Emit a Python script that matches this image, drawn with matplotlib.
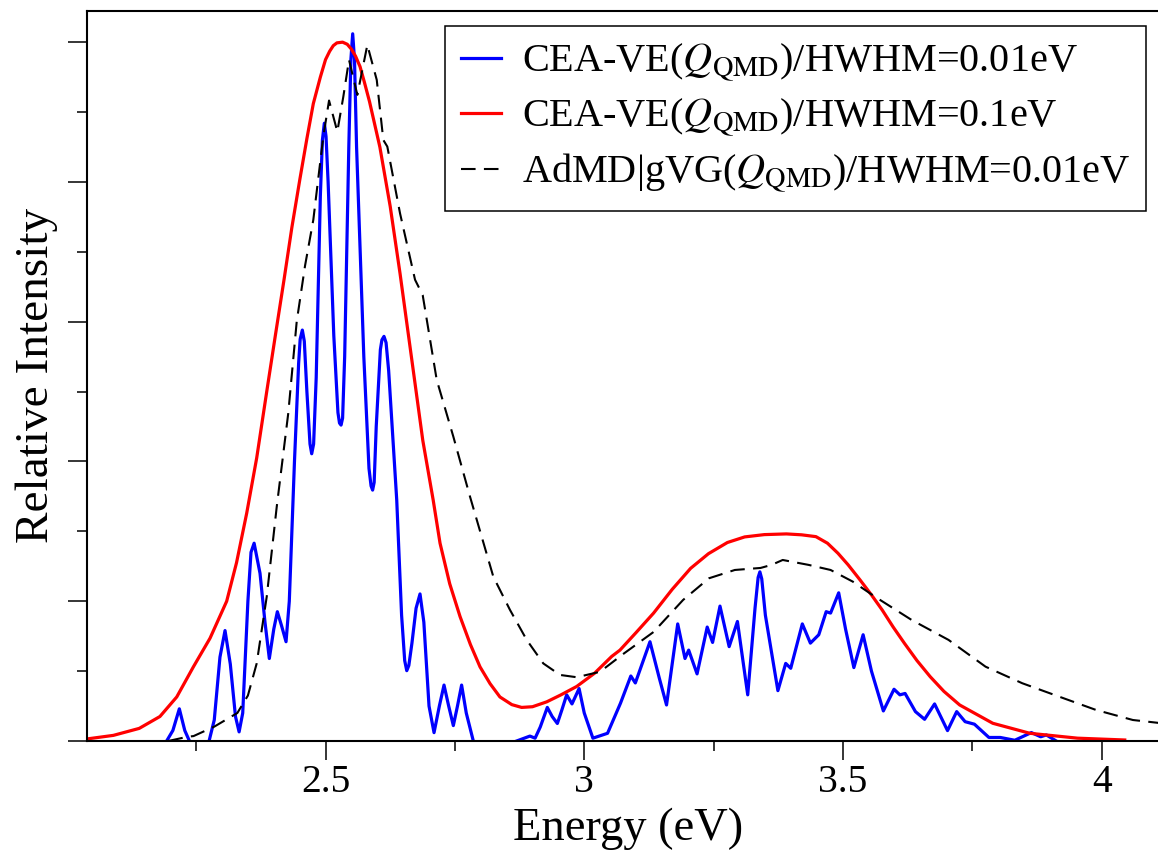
## import libraries
import numpy as np
import matplotlib
matplotlib.use("Agg")
import matplotlib.pyplot as plt
from matplotlib.ticker import MultipleLocator, NullFormatter

## spectrum values (energy in eV, relative intensity)
nan = np.nan
blue_x = [2.193, 2.205, 2.2175, 2.228, 2.237, nan,
          2.275, 2.285, 2.296, 2.3058, 2.316, 2.326, 2.333, 2.340, 2.350, 2.356, 2.362,
          2.3734, 2.383, 2.3914, 2.400, 2.4069, 2.415, 2.4237, 2.430, 2.440, 2.448, 2.451,
          2.4552, 2.459, 2.464, 2.470, 2.4733, 2.477, 2.482, 2.490, 2.494, 2.4977, 2.501,
          2.505, 2.516, 2.524, 2.527, 2.530, 2.533, 2.537, 2.545, 2.549, 2.5525, 2.556,
          2.560, 2.574, 2.584, 2.588, 2.591, 2.594, 2.598, 2.606, 2.609, 2.613, 2.617,
          2.622, 2.6376, 2.647, 2.653, 2.657, 2.661, 2.667, 2.675, 2.6826, 2.690, 2.700,
          2.7097, 2.720, 2.729, 2.738, 2.747, 2.755, 2.763, 2.772, 2.7856, nan,
          2.8695, 2.895, 2.905, 2.915, 2.9286, 2.938, 2.948, 2.957, 2.966, 2.9763, 2.990,
          3.000, 3.0167, 3.045, 3.070, 3.090, 3.0987, 3.127, 3.145, 3.159, 3.1806, 3.1947,
          3.2018, 3.218, 3.2376, 3.248, 3.2623, 3.280, 3.296, 3.3159, 3.330, 3.336, 3.3394,
          3.343, 3.350, 3.3742, 3.3893, 3.399, 3.4214, 3.437, 3.4532, 3.4675, 3.476, 3.4917,
          3.505, 3.521, 3.5389, 3.555, 3.578, 3.5986, 3.610, 3.620, 3.640, 3.6577, 3.677,
          3.702, 3.7197, 3.736, 3.754, 3.782, 3.804, 3.832, 3.864, 3.882, 3.893, 3.912]
blue_y = [0.0, 0.015, 0.046, 0.015, 0.0, nan,
          0.0, 0.03, 0.12, 0.158, 0.11, 0.035, 0.013, 0.04, 0.20, 0.27, 0.283,
          0.240, 0.17, 0.118, 0.16, 0.185, 0.165, 0.142, 0.20, 0.40, 0.54, 0.575,
          0.588, 0.572, 0.50, 0.425, 0.411, 0.425, 0.52, 0.78, 0.860, 0.884, 0.865,
          0.80, 0.58, 0.47, 0.455, 0.452, 0.462, 0.55, 0.85, 0.975, 1.012, 0.975,
          0.85, 0.55, 0.39, 0.365, 0.359, 0.37, 0.45, 0.56, 0.574, 0.579, 0.570,
          0.53, 0.345, 0.18, 0.115, 0.1006, 0.108, 0.14, 0.19, 0.2104, 0.17, 0.05,
          0.0119, 0.05, 0.080, 0.05, 0.022, 0.05, 0.080, 0.04, 0.0, nan,
          0.0, 0.007, 0.004, 0.02, 0.048, 0.035, 0.025, 0.045, 0.066, 0.053, 0.075,
          0.04, 0.004, 0.011, 0.054, 0.093, 0.083, 0.142, 0.09, 0.0515, 0.1675, 0.118,
          0.130, 0.096, 0.163, 0.141, 0.193, 0.135, 0.171, 0.066, 0.19, 0.234, 0.242,
          0.232, 0.18, 0.072, 0.111, 0.104, 0.1675, 0.140, 0.152, 0.185, 0.183, 0.212,
          0.16, 0.105, 0.152, 0.10, 0.043, 0.074, 0.066, 0.068, 0.042, 0.031, 0.053,
          0.0148, 0.042, 0.0276, 0.024, 0.005, 0.005, 0.001, 0.012, 0.006, 0.0086, 0.0]

red_x = [2.040, 2.090, 2.140, 2.180, 2.2125, 2.2446, 2.2768, 2.309, 2.328, 2.3477,
         2.367, 2.3864, 2.403, 2.4198, 2.435, 2.4507, 2.464, 2.4764, 2.490, 2.500,
         2.508, 2.515, 2.522, 2.533, 2.542, 2.550, 2.558, 2.5667, 2.575, 2.585,
         2.605, 2.625, 2.644, 2.665, 2.688, 2.708, 2.7213, 2.740, 2.760, 2.780,
         2.7986, 2.818, 2.837, 2.860, 2.879, 2.900, 2.9275, 2.955, 2.9854, 3.020,
         3.0531, 3.069, 3.100, 3.134, 3.170, 3.2055, 3.240, 3.2766, 3.310, 3.348,
         3.3906, 3.420, 3.4477, 3.470, 3.4903, 3.510, 3.533, 3.555, 3.5757, 3.597,
         3.6187, 3.643, 3.6685, 3.695, 3.7255, 3.7895, 3.861, 3.9533, 4.0445]
red_y = [0.003, 0.008, 0.018, 0.035, 0.063, 0.106, 0.147, 0.200, 0.255, 0.326,
         0.405, 0.500, 0.580, 0.660, 0.735, 0.805, 0.862, 0.912, 0.950, 0.975,
         0.987, 0.995, 0.999, 1.000, 0.997, 0.990, 0.980, 0.965, 0.943, 0.915,
         0.850, 0.765, 0.669, 0.555, 0.430, 0.345, 0.283, 0.225, 0.178, 0.138,
         0.106, 0.082, 0.063, 0.052, 0.048, 0.049, 0.056, 0.066, 0.078, 0.097,
         0.121, 0.130, 0.155, 0.183, 0.217, 0.247, 0.268, 0.284, 0.292, 0.2953,
         0.2963, 0.295, 0.2924, 0.283, 0.2686, 0.252, 0.2304, 0.209, 0.1875, 0.163,
         0.1398, 0.115, 0.092, 0.071, 0.0515, 0.0253, 0.011, 0.004, 0.0014]

black_x = [2.1964, 2.2333, 2.245, 2.285, 2.3296, 2.350, 2.367, 2.3864, 2.4057, 2.428,
           2.4443, 2.4604, 2.4764, 2.4957, 2.5068, 2.5228, 2.5344, 2.5454, 2.5615, 2.5808,
           2.599, 2.6117, 2.6194, 2.644, 2.673, 2.6878, 2.7149, 2.747, 2.7792, 2.8243,
           2.8565, 2.8888, 2.9208, 2.9531, 2.9854, 3.0304, 3.0772, 3.134, 3.191, 3.241,
           3.291, 3.3408, 3.362, 3.3835, 3.4333, 3.476, 3.519, 3.5617, 3.633, 3.704,
           3.7755, 3.8465, 3.9178, 3.9889, 4.0602, 4.108, 4.130]
black_y = [0.0, 0.006, 0.007, 0.0205, 0.040, 0.065, 0.111, 0.2065, 0.335, 0.469,
           0.600, 0.680, 0.7457, 0.865, 0.9165, 0.872, 0.922, 0.9747, 0.9246, 0.996,
           0.946, 0.860, 0.8506, 0.755, 0.660, 0.638, 0.5167, 0.4355, 0.3497, 0.235,
           0.1875, 0.1446, 0.111, 0.0945, 0.0912, 0.099, 0.1255, 0.156, 0.2018, 0.2328,
           0.2447, 0.2476, 0.252, 0.259, 0.252, 0.2447, 0.228, 0.2065, 0.173, 0.1446,
           0.1063, 0.0826, 0.0634, 0.0444, 0.030, 0.026, 0.024]

labels = [r"CEA-VE($Q_{\rm QMD}$)/HWHM=0.01eV",
          r"CEA-VE($Q_{\rm QMD}$)/HWHM=0.1eV",
          r"AdMD|gVG($Q_{\rm QMD}$)/HWHM=0.01eV"]

## fonts
plt.rcParams["font.family"] = ["Liberation Serif", "DejaVu Serif"]
plt.rcParams["mathtext.fontset"] = "stix"

fg = plt.figure(figsize=(11.58, 8.51), dpi=100)
ax = fg.add_axes([0.0751, 0.1293, 0.9344, 0.8581])

ax.plot(blue_x, blue_y, color="#0000ff", lw=2.3, label=labels[0])
ax.plot(red_x, red_y, color="#ff0000", lw=2.3, label=labels[1])
ax.plot(black_x, black_y, color="black", lw=1.5, dashes=(7, 4), label=labels[2])

ax.set_xlim(2.039, 4.130)
ax.set_ylim(0, 1.045)

ax.xaxis.set_minor_locator(MultipleLocator(0.25))
ax.yaxis.set_major_locator(MultipleLocator(0.2))
ax.yaxis.set_minor_locator(MultipleLocator(0.1))
ax.yaxis.set_major_formatter(NullFormatter())
ax.set_xticks([2.5, 3, 3.5, 4])
ax.set_xticklabels(["2.5", "3", "3.5", "4"])

ax.tick_params(which="both", direction="out", width=1.1, top=False, right=False)
ax.tick_params(which="major", length=13.5)
ax.tick_params(which="minor", length=7)
ax.tick_params(axis="x", labelsize=28.5, pad=3)

for s in ["left", "bottom", "top"]:
    ax.spines[s].set_linewidth(1.5)
ax.spines["right"].set_visible(False)

ax.set_xlabel("Energy (eV)", fontsize=33.5, labelpad=5)
ax.set_ylabel("Relative Intensity", fontsize=34, labelpad=4)

lg = ax.legend(loc="upper left", bbox_to_anchor=(445 / 1158, 1 - 26 / 851),
               bbox_transform=fg.transFigure, fontsize=29, frameon=True,
               fancybox=False, framealpha=1, edgecolor="black",
               handlelength=1.0, handletextpad=0.5, borderpad=0.4,
               labelspacing=0.32, borderaxespad=0)
lg.get_frame().set_linewidth(1.1)

plt.savefig("out.png", dpi=100)
